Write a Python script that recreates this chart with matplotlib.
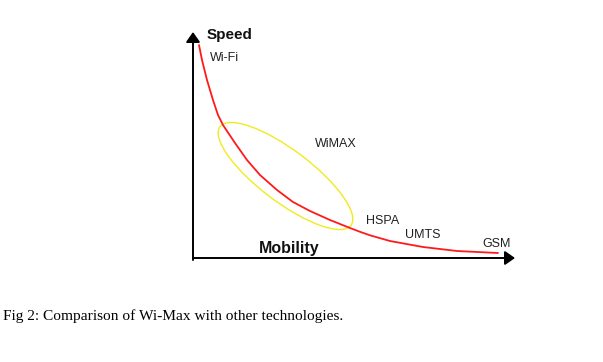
import matplotlib.pyplot as plt
from matplotlib.patches import Ellipse

# curve (canvas px, y grows downward)
curve_x = [199, 202, 207, 213, 218, 223, 235, 247, 260, 277, 293, 310, 330, 350,
           360, 370, 390, 423, 457, 498]
curve_y = [45, 60, 80, 100, 115, 125, 143, 160, 175, 190, 202, 211, 220, 228,
           231.8, 235.3, 241, 247, 251, 253]

tech_names = ["Wi-Fi", "WiMAX", "HSPA", "UMTS", "GSM"]
tech_x = [210, 315, 366, 405, 482]
tech_y = [58, 144, 221, 235, 244]

wimax_center = (285.5, 176)
wimax_size = (164, 52)
wimax_angle = 37

origin = (193, 258)
x_end = 515
y_end = 32

fig = plt.figure(figsize=(6.03, 3.62), dpi=100)
ax = fig.add_axes([0, 0, 1, 1])
ax.set_xlim(0, 603)
ax.set_ylim(362, 0)
ax.axis("off")

# axes with arrows
arrow = dict(arrowstyle="-|>,head_length=0.6,head_width=0.42", color="black",
             lw=1.4, shrinkA=0, shrinkB=0, mutation_scale=10)
ax.annotate("", xy=(origin[0], y_end), xytext=(origin[0], origin[1] + 2), arrowprops=arrow)
ax.annotate("", xy=(x_end, origin[1]), xytext=(origin[0], origin[1]), arrowprops=arrow)

ax.plot(curve_x, curve_y, color="#ff1a1a", lw=1.3, solid_capstyle="round",
        solid_joinstyle="round")

ax.add_patch(Ellipse(wimax_center, wimax_size[0], wimax_size[1], angle=wimax_angle,
                     fill=False, edgecolor="#f0eb1e", lw=1.0))

for name, x, y in zip(tech_names, tech_x, tech_y):
    ax.text(x, y, name, fontsize=9, family="Liberation Sans", color="#222222",
            ha="left", va="center")

ax.text(207, 35, "Speed", fontsize=11, fontweight="bold", family="Liberation Sans",
        color="#111111", ha="left", va="center")
ax.text(259, 253, "Mobility", fontsize=11.5, fontweight="bold", family="Liberation Sans",
        color="#111111", ha="left", va="baseline")

ax.text(3, 320, "Fig 2: Comparison of Wi-Max with other technologies.", fontsize=11.1,
        family="Liberation Serif", color="black", ha="left", va="baseline")

fig.savefig("out.png", dpi=100, facecolor="white")
